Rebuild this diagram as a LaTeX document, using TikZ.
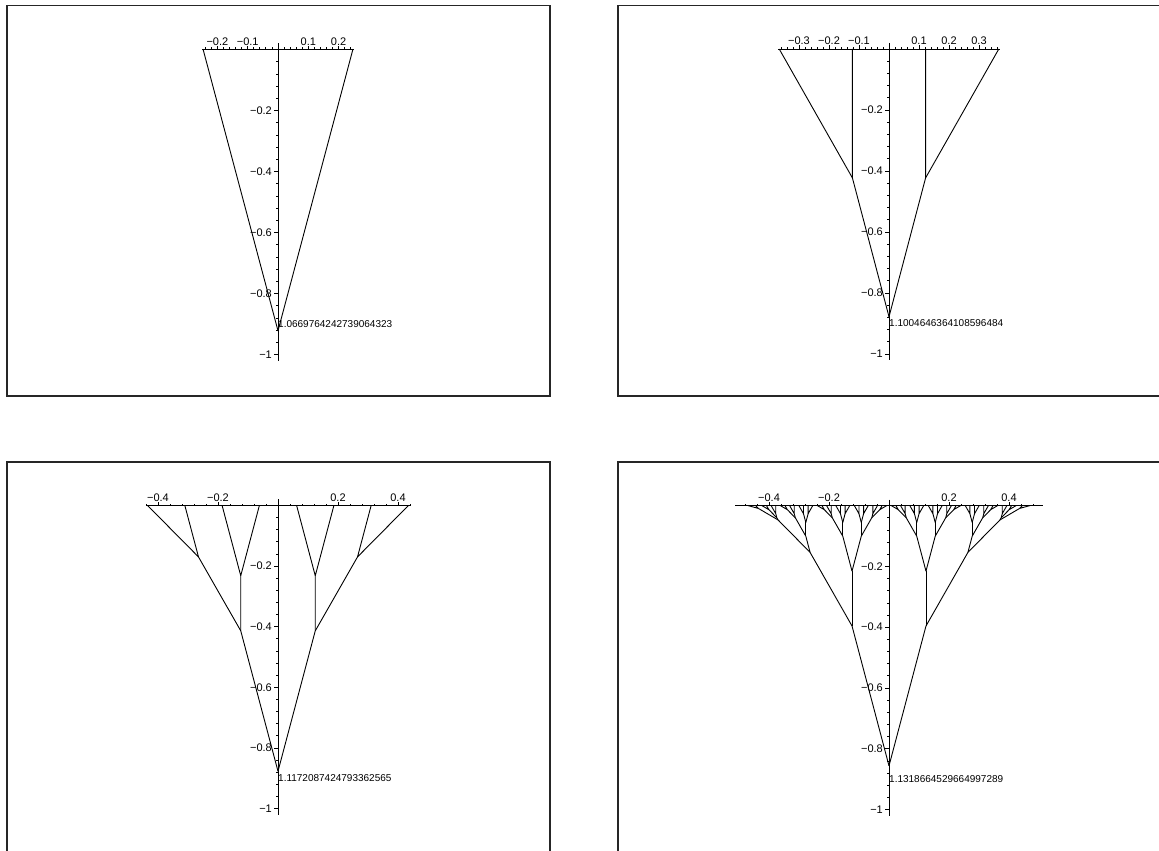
\documentclass[tikz,border=0pt]{standalone}
\usepackage{fontspec}
\setmainfont{Liberation Sans}
\tikzset{
  panelframe/.style={line width=1.6pt,draw=black!85},
  axisline/.style={line width=.8pt},
  branch/.style={line width=.9pt,line join=round},
  ticklbl/.style={font=\fontsize{11}{12}\selectfont,inner sep=0pt},
  heightlbl/.style={font=\fontsize{10}{11}\selectfont,inner sep=0pt,anchor=west}
}
% x axis: from, to, minor ticks, major ticks with labels
\newcommand{\xaxis}[4]{%
  \draw[axisline] (#1,0) -- (#2,0);
  \foreach \t in {#3} \draw[axisline] (\t,0) -- ++(0,2pt);
  \foreach \t/\l in {#4} {\draw[axisline] (\t,0) -- ++(0,3.5pt); \node[ticklbl,above=4pt] at (\t,0) {\l};}
}
\newcommand{\yaxis}{%
  \draw[axisline] (0,0.02) -- (0,-1.02);
  \foreach \t in {-0.04,-0.08,...,-0.99} \draw[axisline] (0,\t) -- ++(-2pt,0);
  \foreach \t/\l in {-0.2/{−0.2},-0.4/{−0.4},-0.6/{−0.6},-0.8/{−0.8},-1/{−1}} {\draw[axisline] (0,\t) -- ++(-4pt,0); \node[ticklbl,left=6pt] at (0,\t) {\l};}
}

\begin{document}
\begin{tikzpicture}[x=1pt,y=-1pt]
  \useasboundingbox (0,0) rectangle (1159,851);
  \draw[panelframe] (7,5.5) rectangle (550,396);
  \draw[panelframe] (618,5.5) rectangle (1166,396);
  \draw[panelframe] (7,462) rectangle (550,858);
  \draw[panelframe] (618,462) rectangle (1166,858);

  % depth 1 (trees drawn in units of half the tip spacing)
  \begin{scope}[shift={(278,49.5)},x={(303pt,0pt)},y={(0pt,305pt)}]
    \xaxis{-0.25}{0.25}{-0.24,-0.22,...,0.25}{-0.2/{−0.2},-0.1/{−0.1},0.1/{0.1},0.2/{0.2}}
    \yaxis
    \coordinate (root1) at (0,-1);
    \draw[branch] (root1) -- (0,-0.922);
    \begin{scope}[x={(74.87pt,0pt)},y={(0pt,75.37pt)}]
      \coordinate (apex1) at (0,-3.732);
      \draw[branch] (-1,0) -- (apex1) -- (1,0);
    \end{scope}
    \node[heightlbl] (h1) at (0,-0.9) {1.0669764242739064323};
  \end{scope}

  % depth 2
  \begin{scope}[shift={(889,49)},x={(300pt,0pt)},y={(0pt,305pt)}]
    \xaxis{-0.37}{0.37}{-0.36,-0.34,...,0.37}{-0.3/{−0.3},-0.2/{−0.2},-0.1/{−0.1},0.1/{0.1},0.2/{0.2},0.3/{0.3}}
    \yaxis
    \coordinate (root2) at (0,-1);
    \draw[branch] (root2) -- (0,-0.878);
    \begin{scope}[x={(36.6pt,0pt)},y={(0pt,37.21pt)}]
      \coordinate (apex2) at (0,-7.196);
      \foreach \s in {1,-1}{
        \begin{scope}[xscale=\s]
          \coordinate (b2) at (1,-3.464);
          \draw[branch] (apex2) -- (b2) -- (1,0);
          \draw[branch] (b2) -- (3,0);
        \end{scope}
      }
    \end{scope}
    \node[heightlbl] (h2) at (0,-0.9) {1.1004646364108596484};
  \end{scope}

  % depth 3
  \begin{scope}[shift={(278,505.5)},x={(300pt,0pt)},y={(0pt,303pt)}]
    \xaxis{-0.44}{0.44}{-0.44,-0.40,...,0.442}{-0.4/{−0.4},-0.2/{−0.2},0.2/{0.2},0.4/{0.4}}
    \yaxis
    \coordinate (root3) at (0,-1);
    \draw[branch] (root3) -- (0,-0.877);
    \begin{scope}[x={(18.63pt,0pt)},y={(0pt,18.816pt)}]
      \coordinate (apex3) at (0,-14.124);
      \foreach \s in {1,-1}{
        \begin{scope}[xscale=\s]
          \coordinate (b3) at (2,-6.660);
          \coordinate (ci3) at (2,-3.732); \coordinate (co3) at (4.268,-2.732);
          \draw[branch] (apex3) -- (b3) -- (ci3);
          \draw[branch] (b3) -- (co3);
          \draw[branch] (1,0) -- (ci3) -- (3,0);
          \draw[branch] (5,0) -- (co3) -- (7,0);
        \end{scope}
      }
    \end{scope}
    \node[heightlbl] (h3) at (0,-0.9) {1.1172087424793362565};
  \end{scope}

  % depth 6
  \begin{scope}[shift={(889,505.6)},x={(300pt,0pt)},y={(0pt,304pt)}]
    \xaxis{-0.513}{0.513}{-0.48,-0.44,...,0.513}{-0.4/{−0.4},-0.2/{−0.2},0.2/{0.2},0.4/{0.4}}
    \yaxis
    \coordinate (root4) at (0,-1);
    \draw[branch] (root4) -- (0,-0.856);
    \begin{scope}[x={(2.311pt,0pt)},y={(0pt,2.342pt)}]
      \coordinate (apex4) at (0,-111.12);
      \foreach \s in {1,-1}{
        \begin{scope}[xscale=\s]
          \coordinate (b4) at (16,-51.406);
          \coordinate (ci4) at (16,-27.98); \coordinate (co4) at (34.144,-19.98);
          \coordinate (q1) at (12,-13.052); \coordinate (q2) at (20,-13.052);
          \coordinate (q3) at (36,-13.052); \coordinate (q4) at (48,-6.124);
          \coordinate (p1) at (7.464,-5.196); \coordinate (p2) at (12,-7.196);
          \coordinate (p3) at (20,-7.196); \coordinate (p4) at (24.536,-5.196);
          \coordinate (p5) at (36,-7.196); \coordinate (p6) at (40.536,-5.196);
          \coordinate (p7) at (48.536,-5.196); \coordinate (p8) at (56.536,-1.196);
          \coordinate (n1) at (4,-1.732); \coordinate (n2) at (7,-3.464);
          \coordinate (n3) at (11,-3.464); \coordinate (n4) at (13,-3.464);
          \coordinate (n5) at (19,-3.464); \coordinate (n6) at (21,-3.464);
          \coordinate (n7) at (25,-3.464); \coordinate (n8) at (28,-1.732);
          \coordinate (n9) at (35,-3.464); \coordinate (n10) at (37,-3.464);
          \coordinate (n11) at (41,-3.464); \coordinate (n12) at (44,-1.732);
          \coordinate (n13) at (49,-3.464); \coordinate (n14) at (52,-1.732);
          \foreach \p/\c in {apex4/b4,b4/ci4,b4/co4,ci4/q1,ci4/q2,co4/q3,co4/q4,
              q1/p1,q1/p2,q2/p3,q2/p4,q3/p5,q3/p6,q4/p7,q4/p8,
              p1/n1,p1/n2,p2/n3,p2/n4,p3/n5,p3/n6,p4/n7,p4/n8,
              p5/n9,p5/n10,p6/n11,p6/n12,p7/n13,p7/n14}
            \draw[branch] (\p) -- (\c);
          \foreach \n/\a in {n1/1,n2/5,n3/9,n4/13,n5/17,n6/21,n7/25,n8/29,
              n9/33,n10/37,n11/41,n12/45,n13/49,n14/53}
            \draw[branch] (\a,0) -- (\n) -- (\a+2,0);
          \draw[branch] (57.732,0) -- (p8) -- (61,0);
        \end{scope}
      }
    \end{scope}
    \node[heightlbl] (h4) at (0,-0.9) {1.1318664529664997289};
  \end{scope}
\end{tikzpicture}
\end{document}
